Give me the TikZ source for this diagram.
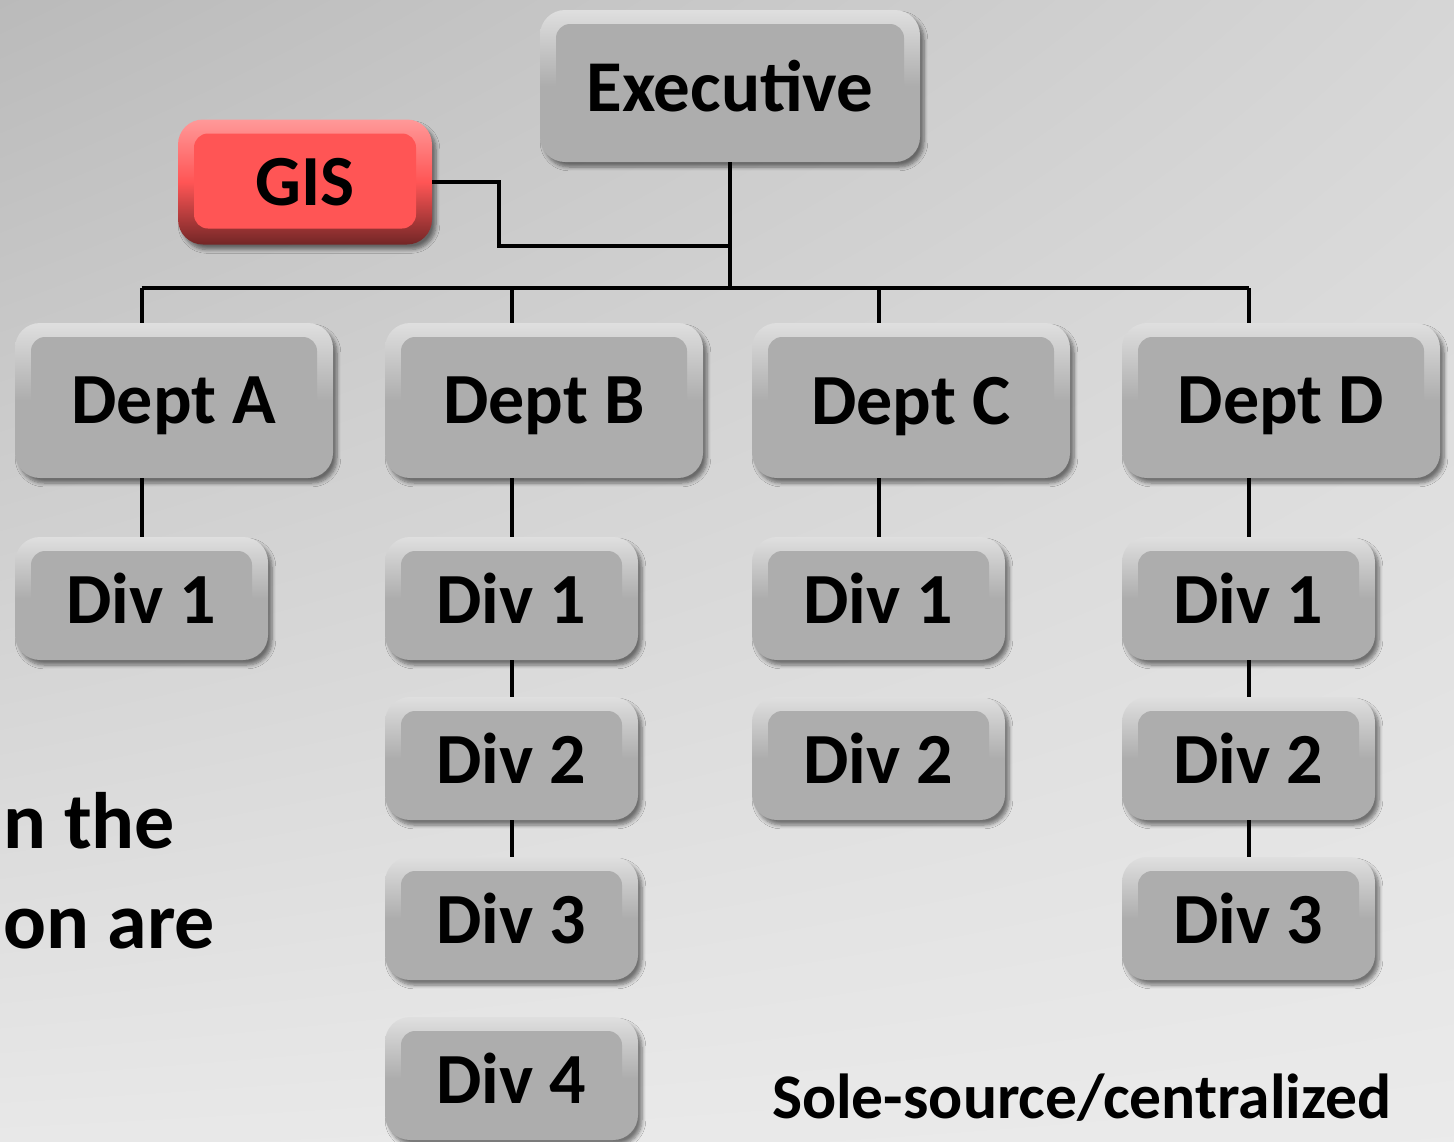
\documentclass[tikz,border=0pt]{standalone}
\usepackage{fontspec}
\setmainfont{Carlito}
\usetikzlibrary{positioning,shadings,shadows.blur}
\definecolor{face}{HTML}{ADADAD}
\definecolor{facered}{HTML}{FF5555}

\begin{document}
\begin{tikzpicture}[x=0.5pt, y=-0.5pt, line width=2pt,
        every node/.append style={font=\bfseries, inner sep=0pt, outer sep=0pt}]
      \tikzstyle{bevel} = [rounded corners=12.5pt,
        blur shadow={shadow xshift=2pt, shadow yshift=-2.5pt, shadow opacity=50, shadow blur steps=6}]
      \tikzstyle{box} = [bevel, top color=gray!25, bottom color=gray!120!black!80, middle color=face,
        path picture={\fill[face, rounded corners=7pt]
          ([shift={(8pt,-7pt)}]path picture bounding box.north west) rectangle
          ([shift={(-8pt,8pt)}]path picture bounding box.south east);}]
      \tikzstyle{redbox} = [bevel, top color=facered!60!white, bottom color=facered!45!black, middle color=facered,
        path picture={\fill[facered, rounded corners=7pt]
          ([shift={(8pt,-7pt)}]path picture bounding box.north west) rectangle
          ([shift={(-8pt,8pt)}]path picture bounding box.south east);}]
      \tikzstyle{dept} = [box, minimum width=159pt, minimum height=77.5pt, text depth=0pt, font=\fontsize{36}{40}\bfseries]
      \tikzstyle{div} = [box, minimum width=126.5pt, minimum height=61.5pt, font=\fontsize{36}{40}\bfseries]
      \useasboundingbox (0,0) rectangle (1454,1141);
      \shade[upper left=black!27, upper right=black!16, lower left=black!9, lower right=black!8] (0,0) rectangle (1454,1141);
      \node (EXEC) [box, minimum width=190pt, minimum height=76pt, font=\fontsize{36.5}{40}\bfseries] at (730,86) {Executive};
      \node (GIS) [redbox, minimum width=127pt, minimum height=62.5pt, font=\fontsize{36}{40}\bfseries] at (305,182) {GIS};
      \foreach \d/\x in {A/15,B/385,C/752,D/1122}
        \node (D\d) [dept, anchor=north west] at (\x,323) {Dept \d};
      \foreach \d in {A,B,C,D}
        \node (\d1) [div, below=29.5pt of D\d.south west, anchor=north west] {Div 1};
      \node (B2) [div, below=18.5pt of B1] {Div 2};
      \node (B3) [div, below=18.5pt of B2] {Div 3};
      \node (B4) [div, below=18.5pt of B3] {Div 4};
      \node (C2) [div, below=18.5pt of C1] {Div 2};
      \node (D2) [div, below=18.5pt of D1] {Div 2};
      \node (D3) [div, below=18.5pt of D2] {Div 3};
      \coordinate (BUS) at (732,288);
      \coordinate (GISBEND) at (499,246);
      \draw (EXEC.south) -- (EXEC.south |- BUS);
      \draw (A1 |- BUS) -- (D1 |- BUS);
      \draw (GIS.east) -| (GISBEND) -- (GISBEND -| EXEC.south);
      \foreach \d in {A,B,C,D} {
        \draw (\d1 |- BUS) -- (\d1 |- D\d.north);
        \draw (\d1 |- D\d.south) -- (\d1.north);
      }
      \foreach \a/\b in {B1/B2,B2/B3,D1/D2,D2/D3}
        \draw (\a) -- (\b);
      \node (TXTA) [anchor=base east, font=\fontsize{40}{48}\bfseries] at (175,848) {n the};
      \node (TXTB) [anchor=base east, font=\fontsize{40}{48}\bfseries] at (215,948) {on are};
      \node (NOTE) [anchor=base west, font=\fontsize{31.8}{36}\bfseries] at (772,1118) {Sole-source/centralized};
    \end{tikzpicture}
\end{document}
